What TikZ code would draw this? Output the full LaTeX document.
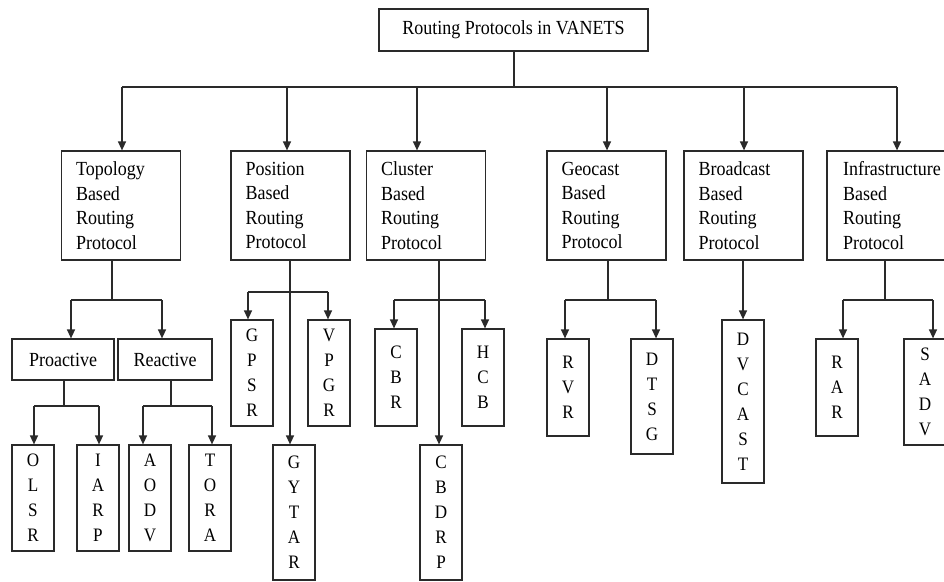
\documentclass[tikz,border=0pt]{standalone}
\usepackage{fontspec}
\setmainfont{Liberation Serif}[FakeStretch=0.9]
\usetikzlibrary{arrows.meta}
\definecolor{ink}{HTML}{2A2A2A}
\begin{document}
\begin{tikzpicture}[x=1pt,y=-1pt,
  ln/.style={draw=ink, line width=1.3pt},
  arr/.style={ln, -{Triangle[length=9pt,width=8pt]}},
  boxs/.style={draw=ink, line width=1.2pt, fill=white, inner sep=0pt, text=black},
  titlebox/.style={boxs, minimum width=269, minimum height=42, font=\fontsize{20}{22}\selectfont},
  catbox/.style={boxs, minimum width=119, minimum height=109, align=left, text width=90, font=\fontsize{20}{24.5}\selectfont},
  subbox/.style={boxs, minimum height=41, font=\fontsize{20}{22}\selectfont},
  kid/.style={boxs, minimum width=42, align=center, font=\fontsize{19}{25}\selectfont}
]
\clip (0,0) rectangle (944,581);
\fill[white] (0,0) rectangle (944,581);

% title
\node[titlebox] (title) at (513.5,30) {Routing Protocols in VANETS};

% level 1
\node[catbox] (topo)  at (121,205.5)   {Topology\\Based\\Routing\\Protocol};
\node[catbox] (pos)   at (290.5,205.5) {Position\\Based\\Routing\\Protocol};
\node[catbox] (clus)  at (426,205.5)   {Cluster\\Based\\Routing\\Protocol};
\node[catbox] (geo)   at (606.5,205.5) {Geocast\\Based\\Routing\\Protocol};
\node[catbox] (broad) at (743.5,205.5) {Broadcast\\Based\\Routing\\Protocol};
\node[catbox, minimum width=122] (infra) at (888,205.5) {\mbox{Infrastructure}\\Based\\Routing\\Protocol};

% level 2 (topology)
\node[subbox, minimum width=102] (pro) at (63,359.5)  {Proactive};
\node[subbox, minimum width=94]  (rea) at (165,359.5) {Reactive};

% leaves
\node[kid, minimum height=106] (olsr) at (33,498)  {O\\L\\S\\R};
\node[kid, minimum height=106] (iarp) at (98,498)  {I\\A\\R\\P};
\node[kid, minimum height=106] (aodv) at (150,498) {A\\O\\D\\V};
\node[kid, minimum height=106] (tora) at (210,498) {T\\O\\R\\A};

\node[kid, minimum height=106] (gpsr)  at (252,373)   {G\\P\\S\\R};
\node[kid, minimum height=106] (vpgr)  at (329,373)   {V\\P\\G\\R};
\node[kid, minimum height=135] (gytar) at (294,512.5) {G\\Y\\T\\A\\R};

\node[kid, minimum height=97]  (cbr)   at (396,377.5) {C\\B\\R};
\node[kid, minimum height=97]  (hcb)   at (483,377.5) {H\\C\\B};
\node[kid, minimum height=135] (cbdrp) at (441,512.5) {C\\B\\D\\R\\P};

\node[kid, minimum height=97]  (rvr)   at (568,387.5) {R\\V\\R};
\node[kid, minimum height=115] (dtsg)  at (652,396.5) {D\\T\\S\\G};

\node[kid, minimum height=163] (dvcast) at (743,401.5) {D\\V\\C\\A\\S\\T};

\node[kid, minimum height=97]  (rar)   at (837,387.5) {R\\A\\R};
\node[kid, minimum height=106] (sadv)  at (925,392)   {S\\A\\D\\V};

% top bus
\coordinate (m0) at (514,87);
\coordinate (a1) at (122,87);
\coordinate (a2) at (287,87);
\coordinate (a3) at (417,87);
\coordinate (a4) at (607,87);
\coordinate (a5) at (744,87);
\coordinate (a6) at (897,87);
\draw[ln] (title.south -| m0) -- (m0);
\draw[ln] (a1) -- (a6);
\draw[arr] (a1) -- (a1 |- topo.north);
\draw[arr] (a2) -- (a2 |- pos.north);
\draw[arr] (a3) -- (a3 |- clus.north);
\draw[arr] (a4) -- (a4 |- geo.north);
\draw[arr] (a5) -- (a5 |- broad.north);
\draw[arr] (a6) -- (a6 |- infra.north);

% topology branch
\coordinate (t0) at (112,300);
\coordinate (t1) at (71,300);
\coordinate (t2) at (162,300);
\draw[ln] (topo.south -| t0) -- (t0);
\draw[ln] (t1) -- (t2);
\draw[arr] (t1) -- (t1 |- pro.north);
\draw[arr] (t2) -- (t2 |- rea.north);

\coordinate (p0) at (64,406);
\coordinate (p1) at (34,406);
\coordinate (p2) at (99,406);
\draw[ln] (pro.south -| p0) -- (p0);
\draw[ln] (p1) -- (p2);
\draw[arr] (p1) -- (p1 |- olsr.north);
\draw[arr] (p2) -- (p2 |- iarp.north);

\coordinate (r0) at (171,406);
\coordinate (r1) at (143,406);
\coordinate (r2) at (212,406);
\draw[ln] (rea.south -| r0) -- (r0);
\draw[ln] (r1) -- (r2);
\draw[arr] (r1) -- (r1 |- aodv.north);
\draw[arr] (r2) -- (r2 |- tora.north);

% position branch
\coordinate (q0) at (290,292);
\coordinate (q1) at (248,292);
\coordinate (q2) at (328,292);
\draw[ln] (q1) -- (q2);
\draw[arr] (pos.south -| q0) -- (q0 |- gytar.north);
\draw[arr] (q1) -- (q1 |- gpsr.north);
\draw[arr] (q2) -- (q2 |- vpgr.north);

% cluster branch
\coordinate (c0) at (439,300);
\coordinate (c1) at (394,300);
\coordinate (c2) at (485,300);
\draw[ln] (c1) -- (c2);
\draw[arr] (clus.south -| c0) -- (c0 |- cbdrp.north);
\draw[arr] (c1) -- (c1 |- cbr.north);
\draw[arr] (c2) -- (c2 |- hcb.north);

% geocast branch
\coordinate (g0) at (608,300);
\coordinate (g1) at (565,300);
\coordinate (g2) at (656,300);
\draw[ln] (geo.south -| g0) -- (g0);
\draw[ln] (g1) -- (g2);
\draw[arr] (g1) -- (g1 |- rvr.north);
\draw[arr] (g2) -- (g2 |- dtsg.north);

% broadcast branch
\draw[arr] (broad.south -| dvcast.north) -- (dvcast.north);

% infrastructure branch
\coordinate (i0) at (885,300);
\coordinate (i1) at (843,300);
\coordinate (i2) at (933,300);
\draw[ln] (infra.south -| i0) -- (i0);
\draw[ln] (i1) -- (i2);
\draw[arr] (i1) -- (i1 |- rar.north);
\draw[arr] (i2) -- (i2 |- sadv.north);
\end{tikzpicture}
\end{document}
